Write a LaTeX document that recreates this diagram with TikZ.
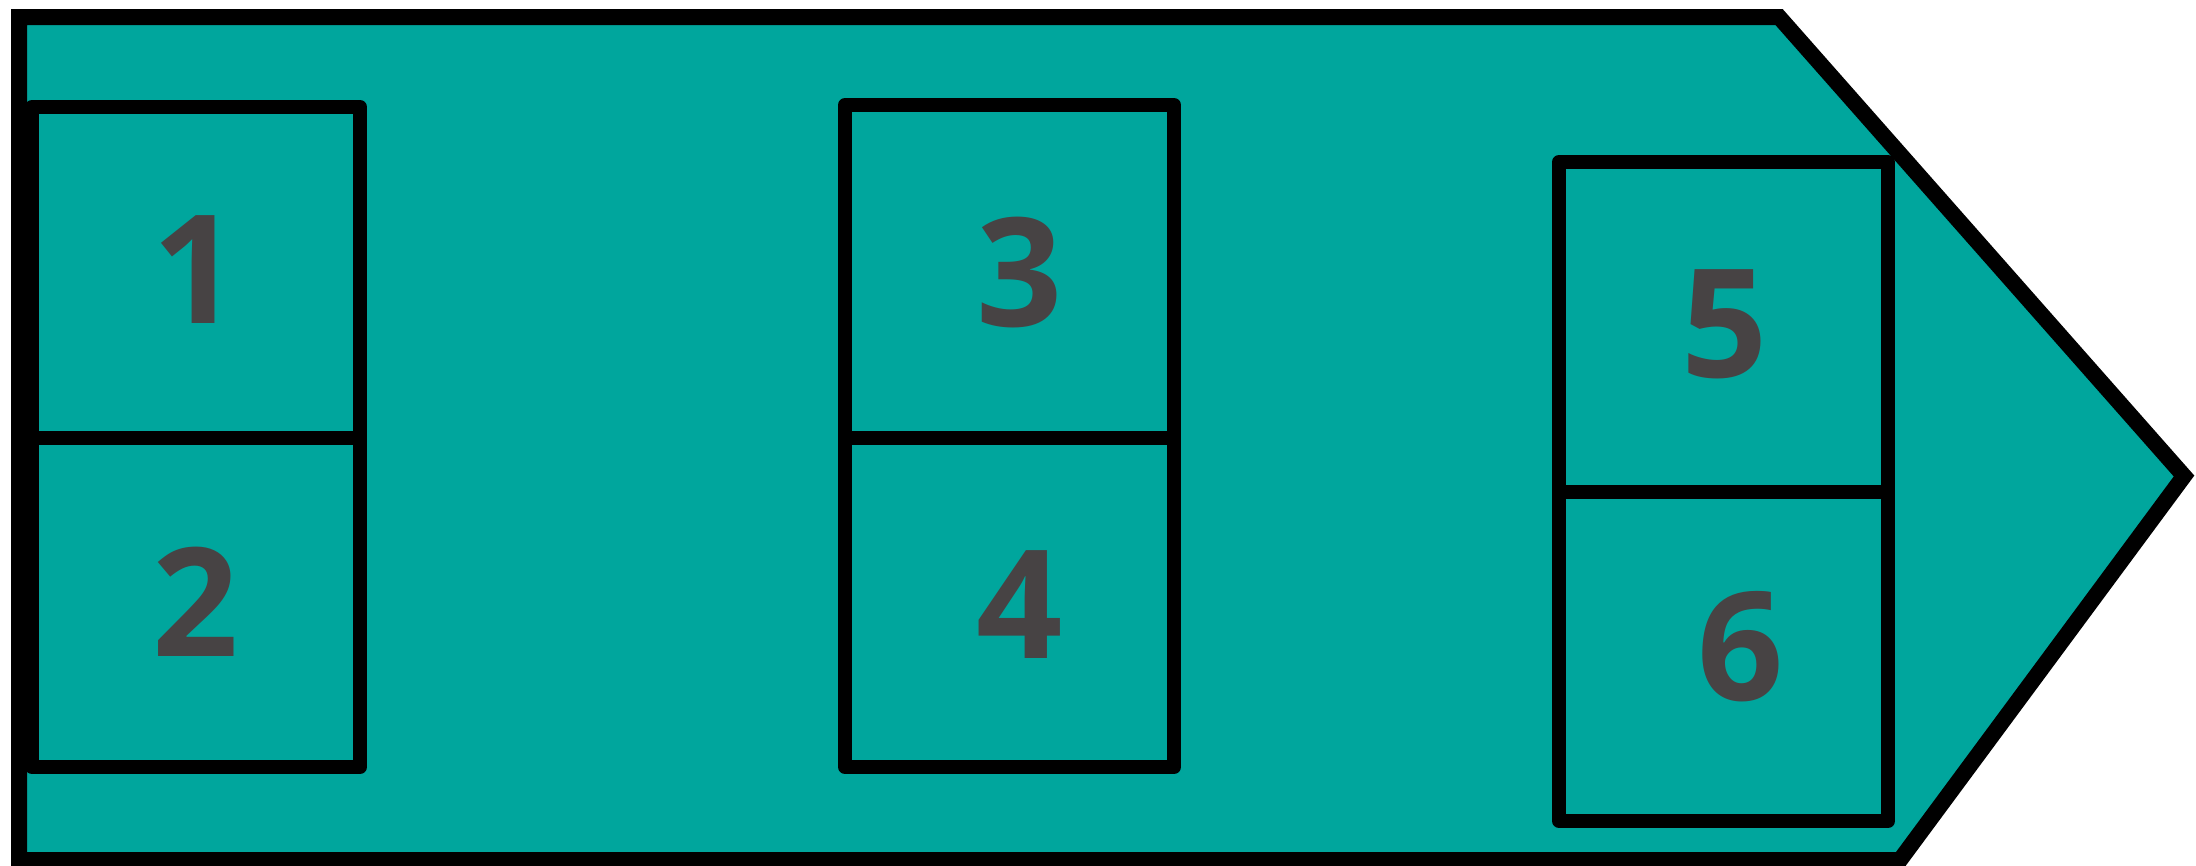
\documentclass[tikz,border=0pt]{standalone}
\usepackage{fontspec}
\setsansfont{Open Sans}
\definecolor{arrowteal}{HTML}{00A69D}
\definecolor{digitgray}{HTML}{474344}
\usepackage{tikz}

\begin{document}
\begin{tikzpicture}[
  x=0.1mm, y=-0.1mm,
  outline/.style={draw=black, fill=arrowteal, line width=1.6mm, line join=miter},
  cell/.style={draw=black, line width=1.4mm, line join=round},
  num/.style={font=\sffamily\bfseries\fontsize{43}{43}\selectfont, text=digitgray, inner sep=0pt}
]
\useasboundingbox (0,0) rectangle (2196,865);

% Arrow body
\draw[outline] (19,17) -- (1779,17) -- (2184,476) -- (1900,860) -- (19,860) -- cycle;

% Left pair
\draw[cell] (32,107) rectangle (360,767);
\draw[cell] (32,438) -- (360,438);
\node[num] (n1) at (196,270) {1};
\node[num] (n2) at (196,602) {2};

% Middle pair
\draw[cell] (845,105) rectangle (1174,767);
\draw[cell] (845,438) -- (1174,438);
\node[num] (n3) at (1020,273) {3};
\node[num] (n4) at (1020,605) {4};

% Right pair
\draw[cell] (1559,162) rectangle (1888,821);
\draw[cell] (1559,492) -- (1888,492);
\node[num] (n5) at (1725,324) {5};
\node[num] (n6) at (1741,647) {6};

\end{tikzpicture}
\end{document}
